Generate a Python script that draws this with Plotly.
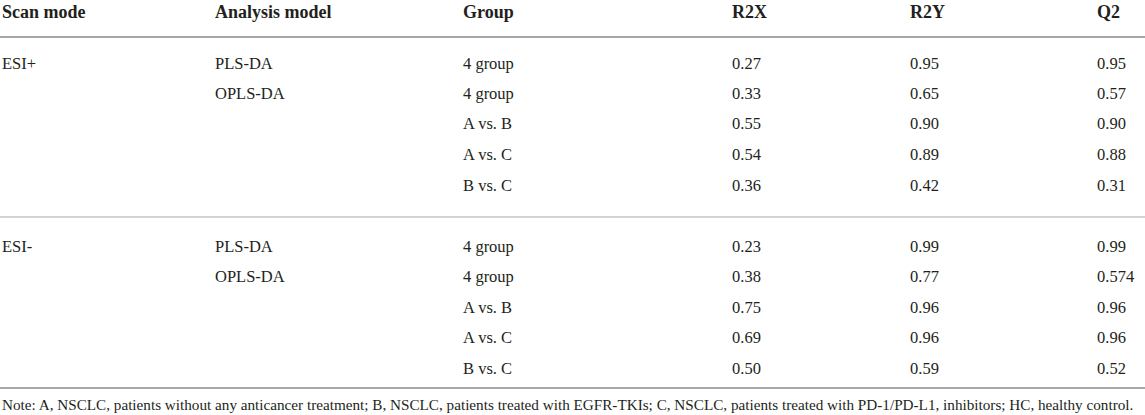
import plotly.graph_objects as go

headers = ["Scan mode", "Analysis model", "Group", "R2X", "R2Y", "Q2"]
scan_mode = ["ESI+", "", "", "", "", "ESI-", "", "", "", ""]
model = ["PLS-DA", "OPLS-DA", "", "", "", "PLS-DA", "OPLS-DA", "", "", ""]
group = ["4 group", "4 group", "A vs. B", "A vs. C", "B vs. C",
         "4 group", "4 group", "A vs. B", "A vs. C", "B vs. C"]
r2x = ["0.27", "0.33", "0.55", "0.54", "0.36", "0.23", "0.38", "0.75", "0.69", "0.50"]
r2y = ["0.95", "0.65", "0.90", "0.89", "0.42", "0.99", "0.77", "0.96", "0.96", "0.59"]
q2 = ["0.95", "0.57", "0.90", "0.88", "0.31", "0.99", "0.574", "0.96", "0.96", "0.52"]
note = ("Note: A, NSCLC, patients without any anticancer treatment; B, NSCLC, patients treated with "
        "EGFR-TKIs; C, NSCLC, patients treated with PD-1/PD-L1, inhibitors; HC, healthy control.")

W, H = 1145, 415
col_x = [2, 215, 463, 732, 910, 1097]
header_y = 13
row_y = [65, 95, 125, 156, 187, 248, 278, 309, 339, 370]
note_y = 406
txt_color = "#231f20"
line_color = "#a7a7a7"
FONT = "Liberation Serif"

fig = go.Figure()
fig.add_trace(go.Scatter(
    x=col_x, y=[header_y] * len(headers), text=[f"<b>{h}</b>" for h in headers],
    mode="text", textposition="middle right", cliponaxis=False,
    textfont=dict(family=FONT, size=18, color=txt_color), hoverinfo="skip"))

columns = [scan_mode, model, group, r2x, r2y, q2]
for cx, vals in zip(col_x, columns):
    fig.add_trace(go.Scatter(
        x=[cx] * len(vals), y=row_y, text=vals, mode="text", textposition="middle right",
        cliponaxis=False,
        textfont=dict(family=FONT, size=16.5, color=txt_color), hoverinfo="skip"))

fig.add_trace(go.Scatter(
    x=[2], y=[note_y], text=[note], mode="text", textposition="middle right",
    cliponaxis=False,
    textfont=dict(family=FONT, size=15.2, color=txt_color), hoverinfo="skip"))

fig.add_shape(type="line", x0=0, x1=W, y0=37, y1=37, line=dict(color=line_color, width=2))
fig.add_shape(type="line", x0=0, x1=W, y0=217, y1=217, line=dict(color=line_color, width=1.2))
fig.add_shape(type="line", x0=0, x1=W, y0=388, y1=388, line=dict(color=line_color, width=2))

fig.update_layout(
    width=W, height=H, margin=dict(l=0, r=0, t=0, b=0),
    paper_bgcolor="white", plot_bgcolor="white", showlegend=False,
    xaxis=dict(range=[0, W], visible=False, fixedrange=True),
    yaxis=dict(range=[H, 0], visible=False, fixedrange=True),
)
fig.write_html("out.html", config={"displayModeBar": False},
               post_script="document.body.style.margin='0px';document.body.style.overflow='hidden';")
